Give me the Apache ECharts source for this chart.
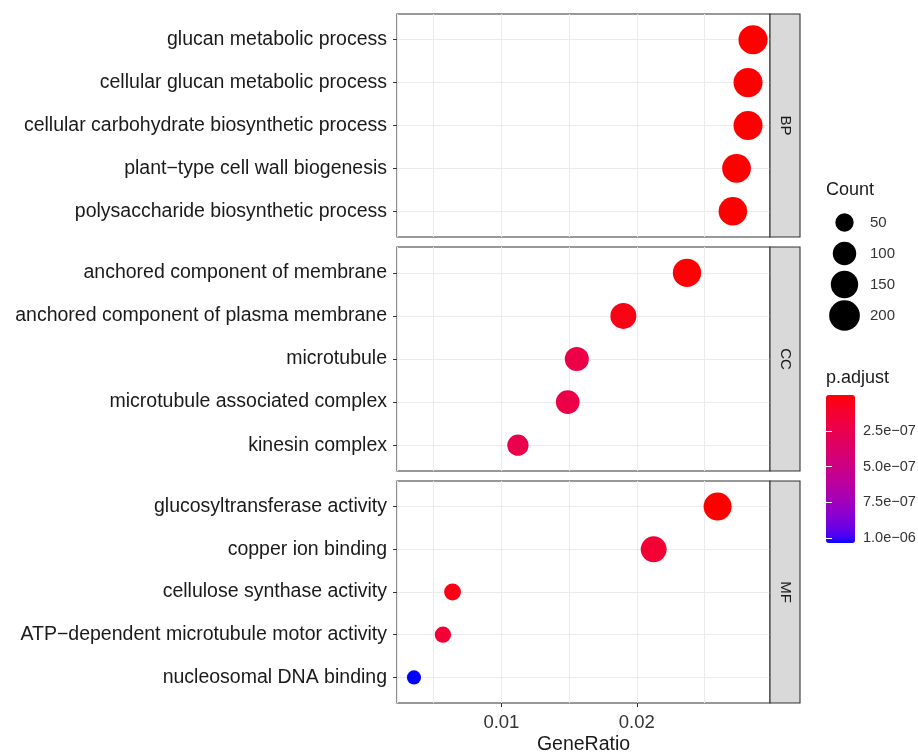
<!DOCTYPE html>
<html><head><meta charset="utf-8">
<script src="https://cdn.jsdelivr.net/npm/echarts@6/dist/echarts.min.js"></script>
<style>html,body{margin:0;padding:0;background:#fff}#c{width:918px;height:752px}</style>
</head><body><div id="c"></div>
<script>
// ---------------- data ----------------
const bpTerms = ['glucan metabolic process','cellular glucan metabolic process','cellular carbohydrate biosynthetic process','plant\u2212type cell wall biogenesis','polysaccharide biosynthetic process'];
const bpRatio = [0.02859, 0.02822, 0.02822, 0.02737, 0.02710];
const bpCount = [176, 174, 174, 169, 167];
const bpP = [1e-12, 2e-12, 3e-12, 5e-12, 8e-12];

const ccTerms = ['anchored component of membrane','anchored component of plasma membrane','microtubule','microtubule associated complex','kinesin complex'];
const ccRatio = [0.02371, 0.01901, 0.01557, 0.01490, 0.01122];
const ccCount = [163, 131, 107, 103, 77];
const ccP = [6e-9, 4e-8, 2.2e-7, 2.25e-7, 2.4e-7];

const mfTerms = ['glucosyltransferase activity','copper ion binding','cellulose synthase activity','ATP\u2212dependent microtubule motor activity','nucleosomal DNA binding'];
const mfRatio = [0.02597, 0.02125, 0.00639, 0.00568, 0.00354];
const mfCount = [159, 130, 39, 35, 22];
const mfP = [2e-9, 1.4e-7, 4e-8, 1.5e-7, 1.033e-6];

const ontologies = ['BP', 'CC', 'MF'];
const xTickValues = [0.01, 0.02];
const pTickValues = [2.5e-7, 5.0e-7, 7.5e-7, 1.0e-6];
const legendCounts = [50, 100, 150, 200];

// ---------------- helpers ----------------
const FONT = '"Liberation Sans", Arial, Helvetica, sans-serif';
const TXT = '#1a1a1a';
const panels = [{top: 14, height: 223}, {top: 247, height: 224}, {top: 481, height: 222}];
const PL = 397, PW = 373, SW = 30;

function sizeOf(c) { return 5.9 + 1.754 * Math.sqrt(c); }

const Xn = 0.95047, Yn = 1, Zn = 1.08883;
function toLin(c) { c /= 255; return c <= 0.04045 ? c / 12.92 : Math.pow((c + 0.055) / 1.055, 2.4); }
function toSrgb(c) { c = Math.max(0, Math.min(1, c)); c = c <= 0.0031308 ? 12.92 * c : 1.055 * Math.pow(c, 1 / 2.4) - 0.055; return Math.round(c * 255); }
function fLab(t) { return t > 0.008856 ? Math.cbrt(t) : 7.787 * t + 16 / 116; }
function fInv(t) { const t3 = t * t * t; return t3 > 0.008856 ? t3 : (t - 16 / 116) / 7.787; }
function rgbToLab(rgb) {
  const r = toLin(rgb[0]), g = toLin(rgb[1]), b = toLin(rgb[2]);
  const X = (0.4124 * r + 0.3576 * g + 0.1805 * b) / Xn;
  const Y = (0.2126 * r + 0.7152 * g + 0.0722 * b) / Yn;
  const Z = (0.0193 * r + 0.1192 * g + 0.9505 * b) / Zn;
  const fx = fLab(X), fy = fLab(Y), fz = fLab(Z);
  return [116 * fy - 16, 500 * (fx - fy), 200 * (fy - fz)];
}
function labToHex(lab) {
  const fy = (lab[0] + 16) / 116, fx = fy + lab[1] / 500, fz = fy - lab[2] / 200;
  const X = fInv(fx) * Xn, Y = fInv(fy) * Yn, Z = fInv(fz) * Zn;
  const r = 3.2406 * X - 1.5372 * Y - 0.4986 * Z;
  const g = -0.9689 * X + 1.8758 * Y + 0.0415 * Z;
  const b = 0.0557 * X - 0.2040 * Y + 1.0570 * Z;
  return '#' + [r, g, b].map(v => toSrgb(v).toString(16).padStart(2, '0')).join('');
}
const labLow = rgbToLab([255, 0, 0]), labHigh = rgbToLab([0, 0, 255]);
const gradient = [];
for (let i = 0; i <= 40; i++) {
  const t = i / 40;
  gradient.push(labToHex([0, 1, 2].map(k => labLow[k] + (labHigh[k] - labLow[k]) * t)));
}

function fmtP(v) {
  let e = Math.floor(Math.log10(v) + 1e-9);
  let m = v / Math.pow(10, e);
  if (m >= 9.995) { m /= 10; e += 1; }
  const s = e < 0 ? '\u2212' : '+';
  return m.toFixed(1) + 'e' + s + String(Math.abs(e)).padStart(2, '0');
}

const groups = [
  {terms: bpTerms, ratio: bpRatio, count: bpCount, p: bpP},
  {terms: ccTerms, ratio: ccRatio, count: ccCount, p: ccP},
  {terms: mfTerms, ratio: mfRatio, count: mfCount, p: mfP}
];
const allRatio = bpRatio.concat(ccRatio, mfRatio);
const allP = bpP.concat(ccP, mfP);
const rMin = Math.min(...allRatio), rMax = Math.max(...allRatio);
const span = rMax - rMin;
const xMin = rMin - 0.05 * span, xMax = rMax + 0.05 * span;
const pMin = Math.min(...allP), pMax = Math.max(...allP);

// ---------------- option ----------------
const grids = [], xAxes = [], yAxes = [], series = [], graphics = [];
groups.forEach((g, i) => {
  const pn = panels[i];
  const isLast = i === groups.length - 1;
  grids.push({left: PL, width: PW, top: pn.top, height: pn.height, show: true,
    borderColor: '#333333', borderWidth: 1.1, backgroundColor: '#fff', containLabel: false,
    outerBoundsMode: 'none'});
  // grid-line axis
  xAxes.push({type: 'value', gridIndex: i, min: xMin, max: xMax, splitNumber: 5,
    axisLine: {show: false}, axisTick: {show: false}, axisLabel: {show: false},
    splitLine: {show: true, lineStyle: {color: '#EBEBEB', width: 1}}});
  // tick/label axis
  xAxes.push({type: 'value', gridIndex: i, min: xMin, max: xMax, position: 'bottom',
    axisLine: {show: false},
    axisTick: {show: isLast, customValues: xTickValues, length: 4, lineStyle: {color: '#333333', width: 1}},
    axisLabel: {show: isLast, customValues: xTickValues, formatter: v => v.toFixed(2),
      fontFamily: FONT, fontSize: 18.5, color: '#333', margin: 10},
    splitLine: {show: false},
    name: isLast ? 'GeneRatio' : '', nameLocation: 'middle', nameGap: 32,
    nameTextStyle: {fontFamily: FONT, fontSize: 19.5, color: TXT}});
  const idx = g.terms.map((_, k) => k);
  yAxes.push({type: 'value', gridIndex: i, min: -0.6, max: g.terms.length - 1 + 0.6, inverse: true,
    splitNumber: 5,
    axisLine: {show: false},
    axisTick: {show: true, customValues: idx, length: 4, lineStyle: {color: '#333333', width: 1}},
    axisLabel: {show: true, customValues: idx, formatter: v => g.terms[Math.round(v)],
      fontFamily: FONT, fontSize: 19.5, color: TXT, margin: 10},
    splitLine: {show: true, lineStyle: {color: '#EBEBEB', width: 1}}});
  series.push({type: 'scatter', xAxisIndex: 2 * i, yAxisIndex: i, silent: true,
    data: g.ratio.map((r, k) => [r, k, g.count[k], g.p[k]]),
    symbolSize: v => sizeOf(v[2]),
    itemStyle: {opacity: 1}, emphasis: {disabled: true}, z: 5});
  // facet strip
  graphics.push({type: 'rect', shape: {x: PL + PW, y: pn.top, width: SW, height: pn.height},
    style: {fill: '#D9D9D9', stroke: '#333333', lineWidth: 1.1}, z: 10});
  graphics.push({type: 'text', x: PL + PW + SW / 2, y: pn.top + pn.height / 2, rotation: -Math.PI / 2,
    style: {text: ontologies[i], font: '15px ' + FONT, fill: TXT, align: 'center', verticalAlign: 'middle'}, z: 11});
});

// size legend grid (index 3)
grids.push({left: 830, width: 29, top: 207, height: 124, show: false, outerBoundsMode: 'none'});
xAxes.push({type: 'value', gridIndex: 3, min: -1, max: 1, show: false});
yAxes.push({type: 'category', gridIndex: 3, data: legendCounts.map(String), inverse: true, position: 'right',
  axisLine: {show: false}, axisTick: {show: false}, splitLine: {show: false},
  axisLabel: {fontFamily: FONT, fontSize: 15, color: '#333', margin: 11}});
series.push({type: 'scatter', xAxisIndex: 6, yAxisIndex: 3, silent: true,
  data: legendCounts.map(c => [0, String(c), c]), symbolSize: v => sizeOf(v[2]),
  itemStyle: {color: '#000', opacity: 1}, emphasis: {disabled: true}});

// colorbar axis grid (index 4)
const CB = {left: 826, top: 395, width: 29, height: 148};
grids.push({left: CB.left, width: CB.width, top: CB.top, height: CB.height, show: false, outerBoundsMode: 'none'});
xAxes.push({type: 'value', gridIndex: 4, min: 0, max: 1, show: false});
yAxes.push({type: 'value', gridIndex: 4, min: pMin, max: pMax, inverse: true, position: 'right', z: 20,
  axisLine: {show: false}, splitLine: {show: false},
  axisTick: {show: true, inside: true, customValues: pTickValues, length: 6, lineStyle: {color: '#fff', width: 1}},
  axisLabel: {show: true, customValues: pTickValues, formatter: v => fmtP(v), fontFamily: FONT, fontSize: 14.5, color: '#333', margin: 8}});
yAxes.push({type: 'value', gridIndex: 4, min: pMin, max: pMax, inverse: true, position: 'left', z: 20,
  axisLine: {show: false}, splitLine: {show: false}, axisLabel: {show: false},
  axisTick: {show: true, inside: true, customValues: pTickValues, length: 6, lineStyle: {color: '#fff', width: 1}}});

graphics.push({type: 'text', x: 826, y: 190, style: {text: 'Count', font: '18px ' + FONT, fill: TXT, align: 'left', verticalAlign: 'middle'}});
graphics.push({type: 'text', x: 826, y: 378, style: {text: 'p.adjust', font: '18px ' + FONT, fill: TXT, align: 'left', verticalAlign: 'middle'}});

const option = {
  backgroundColor: '#fff',
  animation: false,
  grid: grids, xAxis: xAxes, yAxis: yAxes, series: series,
  visualMap: {type: 'continuous', min: pMin, max: pMax, dimension: 3, seriesIndex: [0, 1, 2],
    inRange: {color: gradient}, orient: 'vertical', inverse: true, calculable: false,
    left: CB.left, top: CB.top, itemWidth: CB.width, itemHeight: CB.height, padding: 0,
    text: null, hoverLink: false, realtime: false, z: 4},
  graphic: graphics
};
const chart = echarts.init(document.getElementById('c'), null, {renderer: 'canvas'});
chart.setOption(option);
</script></body></html>
